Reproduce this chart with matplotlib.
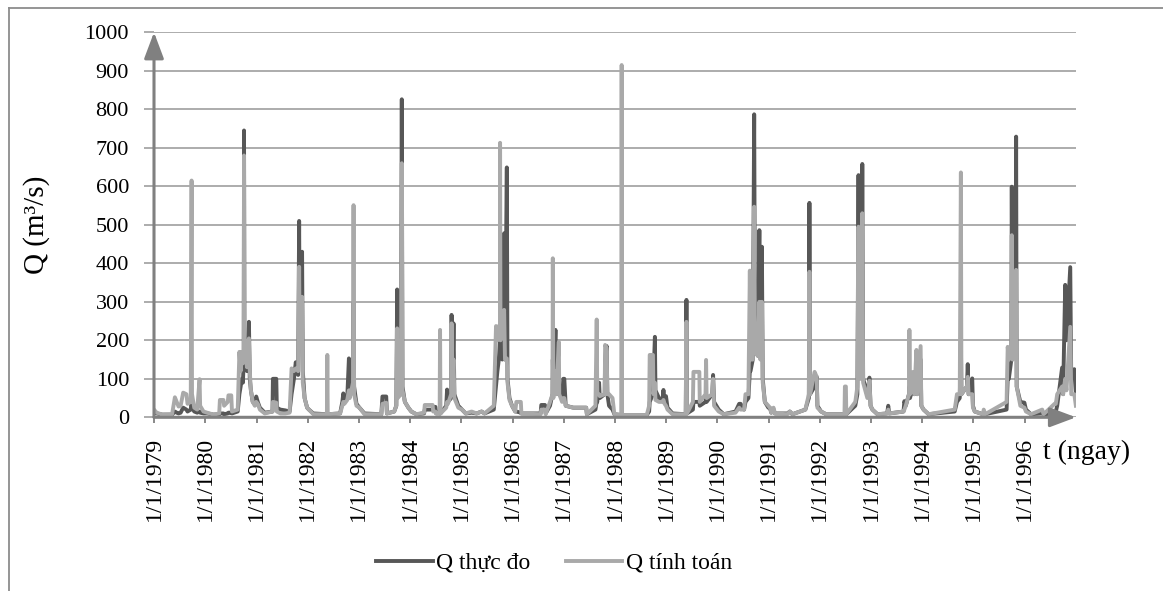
import pandas as pd
import matplotlib.pyplot as plt
from matplotlib.lines import Line2D

# daily discharge (peaks and turning points only)
dates = (
    ['1979-01-01', '1979-01-20', '1979-03-01', '1979-05-10', '1979-05-30', '1979-06-12', '1979-06-25',
     '1979-07-10', '1979-07-28', '1979-08-20', '1979-08-28', '1979-09-20', '1979-09-26', '1979-09-29',
     '1979-10-15', '1979-11-05', '1979-11-22', '1979-11-26', '1979-12-20'] +
    ['1980-01-15', '1980-03-01', '1980-04-10', '1980-04-15', '1980-05-10', '1980-05-15', '1980-06-10',
     '1980-06-15', '1980-07-05', '1980-07-10', '1980-08-20', '1980-09-01', '1980-09-10', '1980-09-18',
     '1980-09-26', '1980-10-02', '1980-10-04', '1980-10-07', '1980-10-15', '1980-10-25', '1980-11-02',
     '1980-11-08', '1980-11-14', '1980-11-22', '1980-12-05', '1980-12-20', '1980-12-30'] +
    ['1981-01-10', '1981-01-25', '1981-03-01', '1981-04-25', '1981-04-28', '1981-05-22', '1981-05-26',
     '1981-06-20', '1981-07-25', '1981-08-25', '1981-09-08', '1981-09-25', '1981-10-08', '1981-10-25',
     '1981-11-01', '1981-11-05', '1981-11-22', '1981-11-27', '1981-12-10', '1981-12-28'] +
    ['1982-01-10', '1982-02-10', '1982-05-18', '1982-05-21', '1982-05-24', '1982-08-20', '1982-09-05',
     '1982-09-12', '1982-09-20', '1982-10-10', '1982-10-22', '1982-10-28', '1982-11-20', '1982-11-24',
     '1982-11-28', '1982-12-15'] +
    ['1983-01-05', '1983-02-10', '1983-06-10', '1983-06-18', '1983-07-15', '1983-07-20', '1983-09-10',
     '1983-09-25', '1983-10-01', '1983-10-05', '1983-10-28', '1983-11-03', '1983-11-08', '1983-11-25',
     '1983-12-20'] +
    ['1984-01-10', '1984-02-15', '1984-04-10', '1984-04-15', '1984-06-10', '1984-06-14', '1984-06-30',
     '1984-07-05', '1984-07-30', '1984-08-02', '1984-08-05', '1984-09-15', '1984-09-21', '1984-09-27',
     '1984-10-20', '1984-10-23', '1984-10-30', '1984-11-06', '1984-11-12', '1984-12-10'] +
    ['1985-01-05', '1985-02-01', '1985-03-15', '1985-04-20', '1985-05-25', '1985-06-15', '1985-08-20',
     '1985-09-05', '1985-09-15', '1985-09-25', '1985-10-03', '1985-10-04', '1985-10-07', '1985-10-20',
     '1985-11-02', '1985-11-08', '1985-11-21', '1985-11-26', '1985-12-10', '1985-12-28'] +
    ['1986-01-20', '1986-01-28', '1986-03-01', '1986-03-05', '1986-07-20', '1986-07-25', '1986-08-20',
     '1986-08-25', '1986-09-25', '1986-10-13', '1986-10-15', '1986-10-19', '1986-11-03', '1986-11-08',
     '1986-11-27', '1986-11-30', '1986-12-20', '1986-12-29'] +
    ['1987-01-05', '1987-01-15', '1987-03-10', '1987-06-10', '1987-06-15', '1987-08-15', '1987-08-24',
     '1987-08-28', '1987-09-10', '1987-09-15', '1987-10-20', '1987-10-23', '1987-11-03', '1987-11-08',
     '1987-11-20', '1987-12-15', '1987-12-28'] +
    ['1988-02-15', '1988-02-18', '1988-02-21', '1988-08-15', '1988-09-01', '1988-09-05', '1988-09-28',
     '1988-10-02', '1988-10-12', '1988-10-16', '1988-11-10', '1988-12-05', '1988-12-12', '1988-12-20',
     '1988-12-30'] +
    ['1989-01-10', '1989-02-15', '1989-05-20', '1989-05-25', '1989-05-29', '1989-07-10', '1989-07-14',
     '1989-08-25', '1989-08-28', '1989-10-08', '1989-10-12', '1989-10-16', '1989-11-25', '1989-12-01',
     '1989-12-08'] +
    ['1990-01-10', '1990-02-15', '1990-05-10', '1990-06-05', '1990-06-15', '1990-07-10', '1990-07-20',
     '1990-08-10', '1990-08-20', '1990-08-25', '1990-09-10', '1990-09-20', '1990-09-26', '1990-10-15',
     '1990-10-27', '1990-11-03', '1990-11-14', '1990-11-20', '1990-12-05', '1990-12-30'] +
    ['1991-01-10', '1991-01-20', '1991-02-05', '1991-02-15', '1991-05-15', '1991-06-01', '1991-06-20',
     '1991-09-20', '1991-10-15', '1991-10-19', '1991-10-24', '1991-11-25', '1991-12-10', '1991-12-15'] +
    ['1992-01-10', '1992-02-15', '1992-06-25', '1992-06-28', '1992-07-05', '1992-07-08', '1992-09-10',
     '1992-09-25', '1992-10-03', '1992-10-08', '1992-10-25', '1992-10-30', '1992-11-05', '1992-12-05',
     '1992-12-20', '1992-12-28'] +
    ['1993-01-10', '1993-02-15', '1993-04-25', '1993-05-03', '1993-05-10', '1993-08-20', '1993-08-26',
     '1993-09-05', '1993-09-28', '1993-10-01', '1993-10-05', '1993-10-28', '1993-11-05', '1993-11-20',
     '1993-11-25', '1993-12-20', '1993-12-25'] +
    ['1994-01-10', '1994-02-15', '1994-08-20', '1994-09-05', '1994-09-25', '1994-10-03', '1994-10-07',
     '1994-11-15', '1994-11-21', '1994-11-27', '1994-12-23', '1994-12-28'] +
    ['1995-01-10', '1995-03-10', '1995-03-15', '1995-03-25', '1995-08-25', '1995-09-02', '1995-09-10',
     '1995-09-28', '1995-10-01', '1995-10-06', '1995-10-28', '1995-11-01', '1995-11-05', '1995-12-01',
     '1995-12-30'] +
    ['1996-01-10', '1996-02-15', '1996-05-05', '1996-05-15', '1996-08-01', '1996-08-10', '1996-08-20',
     '1996-09-24', '1996-10-01', '1996-10-16', '1996-10-25', '1996-11-21', '1996-11-28', '1996-12-20',
     '1996-12-31']
)

q_obs = (
    [12, 10, 7, 7, 15, 12, 10, 12, 25, 20, 15, 20, 40, 25, 15, 12, 15, 12, 10] +
    [10, 7, 8, 10, 10, 8, 10, 12, 12, 10, 15, 60, 80, 100, 90, 150, 745, 200, 150, 120, 160, 248, 100, 70, 40, 35, 54] +
    [40, 25, 12, 15, 100, 100, 25, 20, 18, 15, 60, 100, 143, 110, 510, 200, 430, 120, 50, 25] +
    [20, 10, 8, 10, 8, 10, 40, 62, 45, 50, 153, 60, 80, 300, 80, 35] +
    [25, 10, 8, 54, 54, 10, 15, 30, 332, 60, 60, 826, 80, 40, 25] +
    [15, 8, 10, 20, 20, 27, 27, 10, 10, 20, 10, 30, 72, 40, 50, 266, 100, 244, 60, 30] +
    [20, 10, 12, 10, 15, 10, 20, 80, 120, 150, 200, 300, 200, 150, 478, 150, 649, 100, 50, 30] +
    [15, 15, 12, 10, 10, 32, 32, 10, 30, 60, 150, 60, 227, 60, 80, 60, 50, 100] +
    [100, 30, 25, 25, 8, 20, 40, 40, 90, 50, 60, 150, 185, 60, 30, 20, 8] +
    [6, 10, 6, 6, 15, 40, 60, 100, 209, 70, 50, 45, 71, 40, 55] +
    [25, 10, 8, 305, 10, 20, 40, 40, 30, 40, 60, 40, 60, 110, 40] +
    [20, 8, 15, 35, 35, 20, 40, 50, 120, 120, 150, 787, 200, 160, 486, 160, 443, 100, 40, 25] +
    [25, 12, 20, 10, 10, 15, 8, 20, 50, 557, 60, 80, 105, 30] +
    [15, 8, 8, 10, 10, 8, 30, 60, 629, 150, 150, 658, 100, 60, 103, 30] +
    [20, 8, 10, 30, 10, 15, 42, 30, 60, 80, 50, 80, 60, 100, 60, 150, 30] +
    [20, 8, 15, 40, 50, 200, 60, 80, 138, 60, 101, 30] +
    [15, 8, 10, 8, 20, 100, 100, 150, 599, 150, 200, 729, 80, 40, 38] +
    [20, 8, 10, 8, 10, 15, 30, 129, 60, 344, 200, 390, 100, 125, 60]
)

q_sim = (
    [20, 12, 7, 8, 52, 40, 28, 30, 64, 60, 35, 40, 615, 60, 25, 20, 99, 30, 15] +
    [12, 7, 10, 45, 45, 30, 40, 57, 57, 15, 20, 170, 120, 170, 140, 170, 680, 160, 170, 130, 200, 205, 120, 70, 40, 30, 40] +
    [35, 20, 10, 15, 40, 38, 15, 10, 10, 12, 127, 120, 127, 120, 391, 180, 313, 90, 50, 25] +
    [20, 8, 8, 162, 8, 10, 30, 40, 35, 45, 70, 50, 90, 551, 60, 30] +
    [25, 8, 8, 35, 38, 10, 15, 30, 231, 50, 60, 660, 70, 40, 25] +
    [15, 8, 12, 32, 32, 15, 15, 10, 10, 227, 10, 25, 40, 35, 60, 244, 90, 150, 50, 25] +
    [20, 10, 15, 10, 15, 10, 30, 237, 200, 237, 237, 713, 200, 230, 279, 150, 153, 90, 45, 30] +
    [15, 40, 40, 10, 8, 20, 20, 8, 40, 60, 413, 50, 120, 60, 196, 60, 40, 50] +
    [50, 30, 25, 25, 8, 30, 254, 60, 60, 55, 60, 188, 180, 60, 60, 50, 8] +
    [6, 915, 6, 6, 30, 162, 162, 60, 90, 45, 40, 40, 45, 35, 30] +
    [20, 8, 8, 248, 10, 40, 118, 118, 40, 60, 149, 50, 60, 100, 30] +
    [15, 8, 12, 25, 20, 20, 60, 60, 381, 150, 150, 547, 170, 160, 300, 150, 300, 90, 40, 30] +
    [25, 12, 25, 10, 8, 15, 8, 20, 60, 378, 60, 118, 105, 25] +
    [15, 8, 8, 80, 80, 8, 40, 80, 495, 100, 100, 530, 90, 50, 95, 30] +
    [20, 8, 10, 20, 10, 15, 20, 30, 60, 227, 60, 118, 60, 175, 60, 185, 30] +
    [20, 8, 20, 60, 60, 636, 60, 80, 105, 60, 60, 25] +
    [15, 8, 20, 8, 40, 183, 150, 180, 473, 150, 180, 383, 80, 30, 25] +
    [15, 8, 20, 8, 35, 35, 60, 80, 60, 100, 70, 235, 60, 60, 30]
)

years = list(range(1979, 1997))
tick_labels = ['1/1/%d' % y for y in years]
y_ticks = list(range(0, 1001, 100))

plt.rcParams['font.family'] = ['Liberation Serif', 'DejaVu Serif']

t = pd.to_datetime(dates)
W, H = 1163, 591
fig = plt.figure(figsize=(W / 100, H / 100), dpi=100)
ax = fig.add_axes([154 / W, (H - 417.3) / H, (1076 - 154) / W, 385 / H])

ax.plot(t, q_obs, color='#575757', lw=2.8, label='Q thực đo', zorder=3)
ax.plot(t, q_sim, color='#a9a9a9', lw=2.8, label='Q tính toán', zorder=4)

ax.set_ylim(0, 1000)
ax.set_xlim(pd.Timestamp('1979-01-01'), pd.Timestamp('1997-01-01'))
ax.set_yticks(y_ticks)
ax.set_xticks(pd.to_datetime(['%d-01-01' % y for y in years]))
ax.set_xticklabels(tick_labels, rotation=90)

ax.yaxis.grid(True, color='#a6a6a6', lw=1.3)
ax.set_axisbelow(True)
for s in ax.spines.values():
    s.set_visible(False)
ax.tick_params(axis='y', length=7, width=1.3, color='#a6a6a6', pad=11, labelsize=16)
ax.tick_params(axis='x', length=4, width=1.3, color='#808080', pad=10, labelsize=17)

# axes with arrow heads
arrow = dict(arrowstyle='-|>,head_width=0.3,head_length=0.8', color='#808080',
             lw=2.2, mutation_scale=20, shrinkA=0, shrinkB=0)
ax.annotate('', xy=(0, 1), xytext=(0, 0), xycoords='axes fraction', arrowprops=arrow, zorder=6)
ax.annotate('', xy=(1, 0), xytext=(0, 0), xycoords='axes fraction', arrowprops=arrow, zorder=6)

fig.text(37 / W, 1 - 225 / H, 'Q (m³/s)', rotation=90, ha='center', va='center', fontsize=21)
fig.text(1043 / W, 1 - 452 / H, 't (ngay)', ha='left', va='center', fontsize=20)

fig.legend(loc='center', bbox_to_anchor=(554 / W, 1 - 563 / H), ncol=2, frameon=False,
           fontsize=17, handlelength=2.4, handletextpad=0.15, columnspacing=1.5)

# chart area border (top and left edges visible)
fig.add_artist(Line2D([9 / W, 1], [1 - 8 / H, 1 - 8 / H], color='#8c8c8c', lw=1.3))
fig.add_artist(Line2D([9 / W, 9 / W], [0, 1 - 8 / H], color='#8c8c8c', lw=1.3))

fig.savefig('out.png', dpi=100)
